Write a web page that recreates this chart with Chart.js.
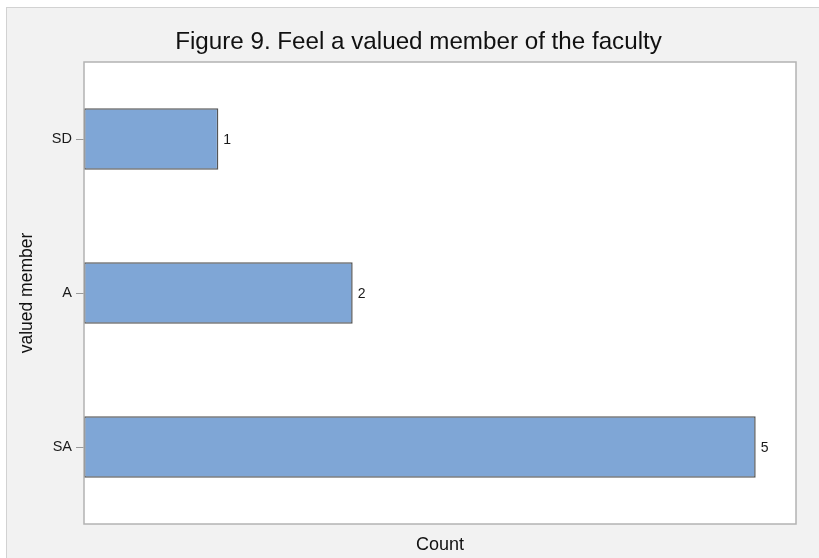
<!DOCTYPE html>
<html>
<head>
<meta charset="utf-8">
<script src="https://cdn.jsdelivr.net/npm/chart.js@4"></script>
<style>
  html, body { margin: 0; padding: 0; background: #ffffff; overflow: hidden; }
  #panel {
    position: absolute; left: 6px; top: 7px; width: 813px; height: 551px; box-sizing: border-box;
    background: #f2f2f2; border-top: 1px solid #d2d2d2; border-left: 1px solid #d2d2d2;
  }
  #wrap { position: absolute; left: 0; top: 0; width: 819px; height: 558px; }
</style>
</head>
<body>
<div id="panel"></div>
<div id="wrap"><canvas id="chart" width="819" height="558"></canvas></div>
<script>
const categories = ["SD", "A", "SA"];
const counts = [1, 2, 5];
const titleText = "Figure 9. Feel a valued member of the faculty";
const yTitle = "valued member";
const xTitle = "Count";

const FONT = "'Liberation Sans', Arial, Helvetica, sans-serif";

// white plot box with grey frame
const plotBox = {
  id: "plotBox",
  beforeDraw(chart) {
    const { ctx, chartArea: a } = chart;
    ctx.save();
    ctx.fillStyle = "#ffffff";
    ctx.fillRect(a.left, a.top, a.right - a.left, a.bottom - a.top);
    ctx.restore();
  },
  afterDatasetsDraw(chart) {
    const { ctx, chartArea: a } = chart;
    ctx.save();
    ctx.strokeStyle = "#b3b3b3";
    ctx.lineWidth = 1.5;
    ctx.strokeRect(a.left, a.top, a.right - a.left, a.bottom - a.top);
    ctx.restore();
  }
};

// title placed like the source figure (slightly left of plot centre)
const figTitle = {
  id: "figTitle",
  afterDraw(chart) {
    const ctx = chart.ctx;
    ctx.save();
    ctx.font = "24.2px " + FONT;
    ctx.fillStyle = "#111111";
    ctx.textAlign = "center";
    ctx.textBaseline = "middle";
    ctx.fillText(titleText, 418.5, 42);
    ctx.restore();
  }
};

// count labels at the end of each bar
const barLabels = {
  id: "barLabels",
  afterDatasetsDraw(chart) {
    const ctx = chart.ctx;
    const meta = chart.getDatasetMeta(0);
    ctx.save();
    ctx.font = "14px " + FONT;
    ctx.fillStyle = "#1a1a1a";
    ctx.textAlign = "left";
    ctx.textBaseline = "middle";
    meta.data.forEach((bar, i) => {
      ctx.fillText(String(counts[i]), bar.x + 5, bar.y + 1);
    });
    ctx.restore();
  }
};

new Chart(document.getElementById("chart"), {
  type: "bar",
  data: {
    labels: categories,
    datasets: [{
      data: counts,
      backgroundColor: "#7fa6d6",
      borderColor: "#555555",
      borderWidth: 1.5,
      borderSkipped: false,
      categoryPercentage: 1,
      barPercentage: 0.4
    }]
  },
  options: {
    indexAxis: "y",
    responsive: false,
    animation: false,
    layout: { padding: { left: 0, right: 23, top: 62, bottom: 0 } },
    plugins: {
      legend: { display: false },
      title: { display: false },
      tooltip: { enabled: false }
    },
    scales: {
      x: {
        min: 0,
        max: 5.3,
        ticks: { display: false },
        grid: { display: false, drawTicks: false },
        border: { display: false },
        title: {
          display: true,
          text: xTitle,
          color: "#111111",
          font: { family: FONT, size: 18 },
          padding: { top: 0, bottom: 2.2 }
        },
        afterFit(scale) { scale.height = 34; }
      },
      y: {
        ticks: {
          color: "#1a1a1a",
          font: { family: FONT, size: 14.5 },
          padding: 4
        },
        grid: {
          offset: false,
          drawOnChartArea: false,
          drawTicks: true,
          tickLength: 8,
          color: "#9a9a9a"
        },
        border: { display: false },
        title: {
          display: true,
          text: yTitle,
          color: "#111111",
          font: { family: FONT, size: 17.5 },
          padding: { top: 17, bottom: 0 }
        },
        afterFit(scale) { scale.width = 84; }
      }
    }
  },
  plugins: [plotBox, figTitle, barLabels]
});
</script>
</body>
</html>
